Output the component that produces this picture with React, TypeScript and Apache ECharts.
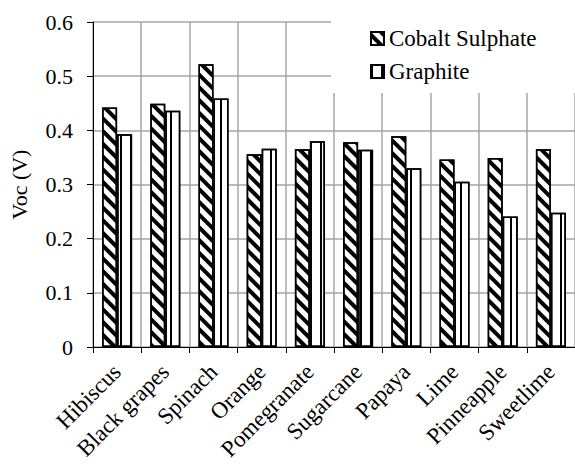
import React, { useEffect, useRef } from "react";
import * as echarts from "echarts";

const categories = [
  "Hibiscus",
  "Black grapes",
  "Spinach",
  "Orange",
  "Pomegranate",
  "Sugarcane",
  "Papaya",
  "Lime",
  "Pinneapple",
  "Sweetlime",
];
const cobaltSulphate = [0.442, 0.449, 0.522, 0.356, 0.365, 0.378, 0.389, 0.346, 0.349, 0.365];
const graphite = [0.393, 0.436, 0.459, 0.366, 0.38, 0.364, 0.33, 0.305, 0.241, 0.248];
const seriesNames = ["Cobalt Sulphate", "Graphite"];
const yAxisName = "Voc (V)";

const FONT = "Liberation Serif";

export default function App() {
  const ref = useRef<HTMLDivElement>(null);
  useEffect(() => {
    if (!ref.current) return;
    const chart = echarts.init(ref.current, undefined, { renderer: "svg" });
    chart.setOption({
      animation: false,
      grid: { left: 93, top: 22, width: 483, height: 325 },
      graphic: [
        {
          type: "rect",
          left: 331,
          top: 14,
          shape: { width: 244, height: 79 },
          style: { fill: "#fff" },
          z: 3,
          silent: true,
        },
      ],
      legend: {
        orient: "vertical",
        left: 331,
        top: 14,
        padding: [13, 40, 10, 39],
        itemWidth: 13,
        itemHeight: 13,
        itemGap: 10,
        textStyle: { fontFamily: FONT, fontSize: 23, color: "#000" },
        icon: "rect",
        data: seriesNames,
      },
      xAxis: {
        type: "category",
        data: categories,
        axisLine: { show: true, lineStyle: { color: "#000", width: 1 } },
        axisTick: { show: true, length: 6, lineStyle: { color: "#000" } },
        axisLabel: {
          rotate: 45,
          interval: 0,
          margin: 21,
          fontFamily: FONT,
          fontSize: 23,
          color: "#000",
        },
        splitLine: { show: true, lineStyle: { color: "#a6a6a6", width: 1.5 } },
      },
      yAxis: {
        type: "value",
        min: 0,
        max: 0.6,
        interval: 0.1,
        name: yAxisName,
        nameLocation: "middle",
        nameGap: 63,
        nameTextStyle: { fontFamily: FONT, fontSize: 22, color: "#000" },
        axisLine: { show: true, lineStyle: { color: "#000", width: 1 } },
        axisTick: { show: true, length: 6, lineStyle: { color: "#000" } },
        axisLabel: { margin: 20, fontFamily: FONT, fontSize: 22, color: "#000" },
        splitLine: { show: true, lineStyle: { color: "#a6a6a6", width: 1.5 } },
      },
      series: [
        {
          name: seriesNames[0],
          type: "bar",
          data: cobaltSulphate,
          barWidth: 15,
          barGap: "0%",
          itemStyle: {
            color: "#fff",
            borderColor: "#000",
            borderWidth: 1.5,
            decal: {
              symbol: "rect",
              symbolSize: 1,
              color: "#000",
              dashArrayX: [10, 0],
              dashArrayY: [3.5, 5],
              rotation: Math.PI / 4,
            },
          },
        },
        {
          name: seriesNames[1],
          type: "bar",
          data: graphite,
          barWidth: 15,
          barGap: "0%",
          itemStyle: {
            color: "#fff",
            borderColor: "#000",
            borderWidth: 1.5,
            decal: {
              symbol: "rect",
              symbolSize: 1,
              color: "#000",
              dashArrayX: [1.5, 7.5],
              dashArrayY: [10, 0],
              rotation: 0,
            },
          },
        },
      ],
    });
    return () => chart.dispose();
  }, []);
  return (
    <div
      ref={ref}
      style={{ width: 575, height: 466, position: "absolute", left: 0, top: 0, background: "#fff" }}
    />
  );
}
